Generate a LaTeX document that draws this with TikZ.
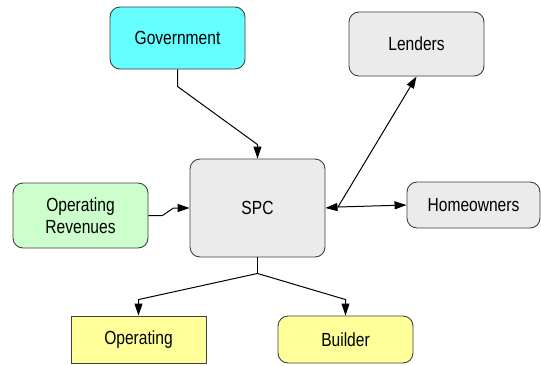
\documentclass[tikz,border=0pt]{standalone}
\usepackage{fontspec}
\setmainfont{Liberation Sans}[FakeStretch=0.82]
\usetikzlibrary{arrows.meta,calc}
\definecolor{cyanbox}{HTML}{66FFFF}
\definecolor{greybox}{HTML}{EBEBEB}
\definecolor{greenbox}{HTML}{CCFFCC}
\definecolor{yellowbox}{HTML}{FFFF99}
\definecolor{edge}{HTML}{404040}
\tikzset{
  box/.style={draw=edge, line width=0.9pt, rounded corners=10pt, align=center,
    inner sep=0pt, font=\fontsize{19}{22}\selectfont},
  sqbox/.style={box, rounded corners=0pt},
  conn/.style={line width=1pt, draw=black, -{Triangle[length=12pt,width=8pt]}},
}
\begin{document}
\begin{tikzpicture}[x=1pt,y=-1pt]
\useasboundingbox (0,0) rectangle (541,365);
\fill[white] (0,0) rectangle (541,365);
\node[box, fill=cyanbox, minimum width=135pt, minimum height=62pt] (gov) at (177.5,38) {Government};
\node[box, fill=greybox, minimum width=135pt, minimum height=64pt] (lend) at (416.5,44) {Lenders};
\node[box, fill=greybox, minimum width=133pt, minimum height=46pt] (home) at (473.5,205) {Homeowners};
\node[box, fill=greybox, minimum width=135pt, minimum height=98pt] (spc) at (257.5,208) {SPC};
\node[box, fill=greenbox, minimum width=135pt, minimum height=65pt] (orev) at (80.5,215.5) {Operating\\Revenues};
\node[sqbox, fill=yellowbox, minimum width=135pt, minimum height=47pt] (oper) at (138.5,339.5) {Operating};
\node[box, fill=yellowbox, minimum width=135pt, minimum height=47pt] (build) at (345.5,339.5) {Builder};
% connectors
\draw[conn] (gov.south) -- ++(0,17) -- ($(spc.north)+(0,-14)$) -- (spc.north);
\coordinate (hub) at (338,207);
\draw[conn] (hub) -- (spc.east);
\draw[conn] (hub) -- (lend.south);
\draw[conn] (hub) -- (home.west);
\draw[conn] (orev.east) -- ++(14,0) -- ($(spc.west)+(-16,0)$) -- (spc.west);
\coordinate (bhub) at ($(spc.south)+(0,16)$);
\draw[line width=1pt, draw=black] (spc.south) -- (bhub);
\draw[conn] (bhub) -- ($(oper.north)+(0,-16)$) -- (oper.north);
\draw[conn] (bhub) -- ($(build.north)+(0,-16)$) -- (build.north);
\end{tikzpicture}
\end{document}
